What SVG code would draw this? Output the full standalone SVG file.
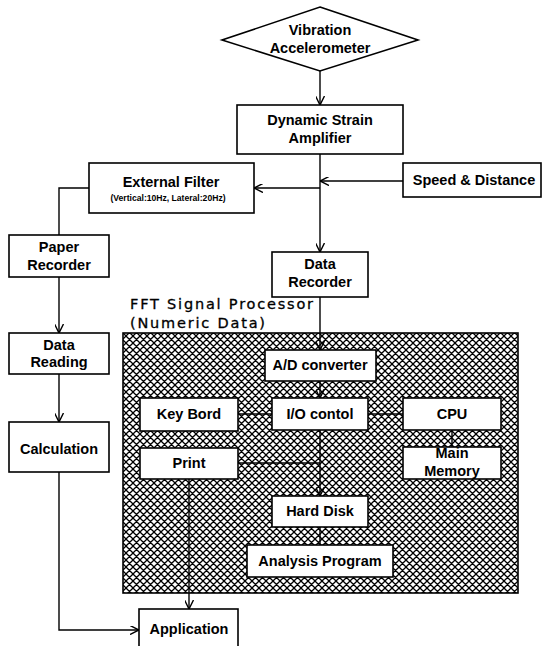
<svg xmlns="http://www.w3.org/2000/svg" width="543" height="646" viewBox="0 0 543 646">
<style>
.box{fill:#fff;stroke:#000;stroke-width:1.6}
.t{font-family:"Liberation Sans",Arial,sans-serif;font-weight:bold;font-size:14.5px;text-anchor:middle;fill:#000}
.s{font-family:"Liberation Sans",Arial,sans-serif;font-weight:bold;font-size:8.6px;text-anchor:middle;fill:#000}
.f{font-family:"DejaVu Sans",sans-serif;font-size:14.5px;letter-spacing:1.8px;fill:#000;stroke:#000;stroke-width:0.3}
.c{fill:none;stroke:#000;stroke-width:1.4}
</style>
<defs>
<marker id="ah" viewBox="0 0 10 10" refX="10" refY="5" markerWidth="9" markerHeight="9" markerUnits="userSpaceOnUse" orient="auto">
<path d="M0,0 L10,5 L0,10" fill="none" stroke="#000" stroke-width="1.6"/>
</marker>
<pattern id="hatch" width="7" height="7" patternUnits="userSpaceOnUse">
<rect width="7" height="7" fill="#fff"/>
<path d="M-1,1 L1,-1 M0,7 L7,0 M6,8 L8,6 M-1,6 L1,8 M0,0 L7,7 M6,-1 L8,1" stroke="#000" stroke-width="1.3"/>
</pattern>
</defs>

<g id="fft-area">
<rect x="123" y="333" width="395" height="260" fill="url(#hatch)" stroke="#000" stroke-width="1.6"/>
<text class="f" x="130" y="309">FFT Signal Processor</text>
<text class="f" x="130" y="328">(Numeric Data)</text>
</g>

<g id="connectors">
<line class="c" x1="320" y1="71" x2="320" y2="105" marker-end="url(#ah)"/>
<line class="c" x1="320" y1="154" x2="320" y2="252" marker-end="url(#ah)"/>
<line class="c" x1="403" y1="181" x2="320" y2="181" marker-end="url(#ah)"/>
<line class="c" x1="320" y1="188" x2="254" y2="188" marker-end="url(#ah)"/>
<polyline class="c" points="89,188 59,188 59,235"/>
<line class="c" x1="59" y1="277" x2="59" y2="333" marker-end="url(#ah)"/>
<line class="c" x1="59" y1="374" x2="59" y2="422" marker-end="url(#ah)"/>
<polyline class="c" points="59,472 59,630 139,630" marker-end="url(#ah)"/>
<line class="c" x1="320" y1="297" x2="320" y2="350" marker-end="url(#ah)"/>
<line class="c" x1="320" y1="381" x2="320" y2="398" marker-end="url(#ah)"/>
<line class="c" x1="320" y1="430" x2="320" y2="496" marker-end="url(#ah)"/>
<line class="c" x1="320" y1="545" x2="320" y2="527"/>
<line class="c" x1="238" y1="414" x2="272" y2="414"/>
<line class="c" x1="368" y1="414" x2="403" y2="414"/>
<line class="c" x1="452" y1="430" x2="452" y2="447"/>
<line class="c" x1="238" y1="463" x2="320" y2="463"/>
<line class="c" x1="189" y1="479" x2="189" y2="609" marker-end="url(#ah)"/>
</g>

<g id="vibration-accelerometer">
<polygon class="box" points="320,7 418,40 320,71 222,40"/>
<text class="t" x="320" y="35">Vibration</text>
<text class="t" x="320" y="53">Accelerometer</text>
</g>

<g id="dynamic-strain-amplifier">
<rect class="box" x="237" y="105" width="166" height="49"/>
<text class="t" x="320" y="125">Dynamic Strain</text>
<text class="t" x="320" y="143">Amplifier</text>
</g>

<g id="speed-distance">
<rect class="box" x="403" y="163" width="138" height="34"/>
<text class="t" x="474" y="185">Speed &amp; Distance</text>
</g>

<g id="external-filter">
<rect class="box" x="89" y="163" width="165" height="50"/>
<text class="t" x="171" y="187">External Filter</text>
<text class="s" x="168" y="201">(Vertical:10Hz, Lateral:20Hz)</text>
</g>

<g id="paper-recorder">
<rect class="box" x="9" y="235" width="100" height="42"/>
<text class="t" x="59" y="252">Paper</text>
<text class="t" x="59" y="270">Recorder</text>
</g>

<g id="data-recorder">
<rect class="box" x="272" y="252" width="96" height="45"/>
<text class="t" x="320" y="269">Data</text>
<text class="t" x="320" y="287">Recorder</text>
</g>

<g id="data-reading">
<rect class="box" x="9" y="333" width="100" height="41"/>
<text class="t" x="59" y="350">Data</text>
<text class="t" x="59" y="367">Reading</text>
</g>

<g id="calculation">
<rect class="box" x="9" y="422" width="100" height="50"/>
<text class="t" x="59" y="454">Calculation</text>
</g>

<g id="ad-converter">
<rect class="box" x="265" y="350" width="111" height="31"/>
<text class="t" x="320" y="370">A/D converter</text>
</g>

<g id="key-bord">
<rect class="box" x="140" y="398" width="98" height="33"/>
<text class="t" x="189" y="419">Key Bord</text>
</g>

<g id="io-control">
<rect class="box" x="272" y="398" width="96" height="32"/>
<text class="t" x="320" y="419">I/O contol</text>
</g>

<g id="cpu">
<rect class="box" x="403" y="398" width="98" height="32"/>
<text class="t" x="452" y="419">CPU</text>
</g>

<g id="main-memory">
<rect class="box" x="403" y="447" width="98" height="32"/>
<text class="t" x="452" y="458">Main</text>
<text class="t" x="452" y="476">Memory</text>
</g>

<g id="print">
<rect class="box" x="140" y="448" width="98" height="31"/>
<text class="t" x="189" y="468">Print</text>
</g>

<g id="hard-disk">
<rect class="box" x="272" y="496" width="96" height="31"/>
<text class="t" x="320" y="516">Hard Disk</text>
</g>

<g id="analysis-program">
<rect class="box" x="247" y="545" width="146" height="32"/>
<text class="t" x="320" y="566">Analysis Program</text>
</g>

<g id="application">
<rect class="box" x="139" y="609" width="99" height="40"/>
<text class="t" x="189" y="634">Application</text>
</g>
</svg>
